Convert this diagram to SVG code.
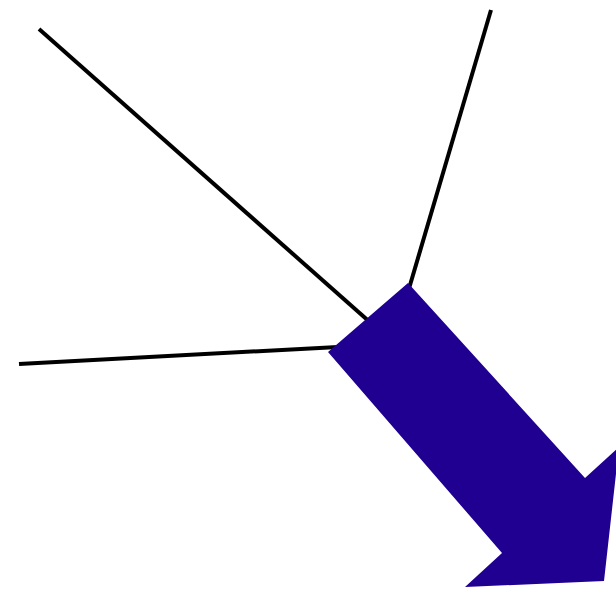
<svg xmlns="http://www.w3.org/2000/svg" width="616" height="590" viewBox="0 0 616 590">
<style>
.ln{stroke:#000;stroke-width:4;fill:none;stroke-linecap:butt}
.arr{fill:#200090;stroke:none}
</style>
<rect width="616" height="590" fill="#fff"/>
<g id="connectors">
<line class="ln" x1="39" y1="29" x2="372" y2="324"/>
<line class="ln" x1="491" y1="10" x2="408" y2="292"/>
<line class="ln" x1="19" y1="364" x2="338" y2="347"/>
</g>
<g id="arrow">
<polygon class="arr" points="408,283 585,478 619,447 604,581 465,587 502,553 328,352"/>
</g>
</svg>
